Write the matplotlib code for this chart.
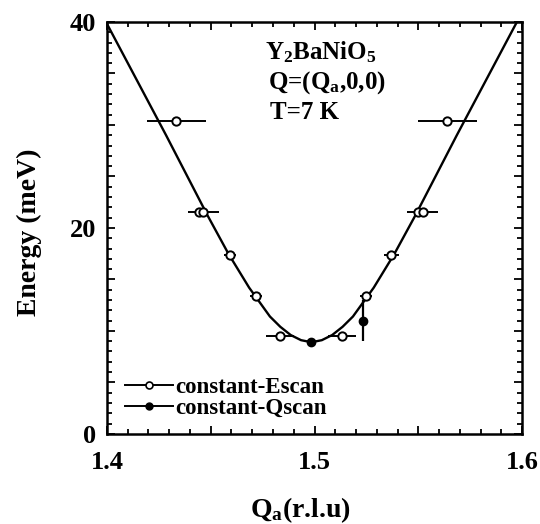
import matplotlib
matplotlib.use("Agg")
import matplotlib.pyplot as plt
from matplotlib.ticker import MultipleLocator, FuncFormatter

plt.rcParams['font.family'] = ['Liberation Serif', 'DejaVu Serif']
plt.rcParams['font.weight'] = 'bold'
plt.rcParams['axes.labelweight'] = 'bold'
plt.rcParams['mathtext.fontset'] = 'custom'
plt.rcParams['mathtext.rm'] = 'Liberation Serif:bold'
plt.rcParams['mathtext.default'] = 'regular'

# constant-E scans (open circles): Qa, E, horizontal error
qE = [1.4333, 1.4445, 1.4465, 1.4593, 1.4718, 1.4834, 1.5131, 1.5248, 1.5369, 1.5500, 1.5521, 1.5640]
EE = [30.4, 21.5, 21.5, 17.4, 13.4, 9.5, 9.5, 13.4, 17.4, 21.5, 21.5, 30.4]
qE_err = [0.0142, 0.0, 0.0075, 0.003, 0.0027, 0.0067, 0.0068, 0.0027, 0.0036, 0.0, 0.0075, 0.0141]

# constant-Q scans (filled circles): Qa, E, vertical error
qQ = [1.4982, 1.5235]
EQ = [8.9, 11.0]
EQ_err = [0.4, 2.0]

# dispersion curve
curve_q = [1.3935, 1.3985, 1.4085, 1.4185, 1.4285, 1.4385, 1.4485, 1.4585, 1.4685, 1.4735,
           1.4785, 1.4835, 1.4885, 1.4935, 1.4985, 1.5035, 1.5085, 1.5135, 1.5185,
           1.5235, 1.5285, 1.5385, 1.5485, 1.5585, 1.5685, 1.5785, 1.5885, 1.5985, 1.6035]
curve_E = [42.3, 40.4, 36.6, 32.8, 29.0, 25.1, 21.2, 17.5, 14.2, 12.8,
           11.4, 10.4, 9.6, 9.1, 8.9, 9.1, 9.6, 10.4, 11.4,
           12.8, 14.2, 17.5, 21.2, 25.1, 29.0, 32.8, 36.6, 40.4, 42.3]

fig = plt.figure(figsize=(5.4, 5.24), dpi=100)
ax = fig.add_axes([0.198, 0.172, 0.769, 0.786])

ax.plot(curve_q, curve_E, color='black', lw=1.7, zorder=2)

ax.errorbar(qE, EE, xerr=qE_err, fmt='o', ms=6, mfc='white', mec='black', mew=1.4,
            ecolor='black', elinewidth=1.4, capsize=0, zorder=3)
ax.errorbar(qQ, EQ, yerr=EQ_err, fmt='o', ms=6, mfc='black', mec='black',
            ecolor='black', elinewidth=1.6, capsize=0, zorder=4)

# legend handles
hE, = ax.plot([], [], '-o', color='black', lw=1.4, ms=5, mfc='white', mew=1.2)
hQ, = ax.plot([], [], '-o', color='black', lw=1.4, ms=5, mfc='black')
ax.legend([hE, hQ], ['constant-Escan', 'constant-Qscan'], loc='center left',
          bbox_to_anchor=(0.044, 0.088), frameon=False,
          prop={'weight': 'bold', 'size': 16.5}, handlelength=2.1,
          handletextpad=0.1, labelspacing=0.0, borderaxespad=0.0, borderpad=0.0)

ax.text(1.4761, 37.1, 'Y$_2$BaNiO$_5$', fontsize=18, va='center')
ax.text(1.4775, 34.1, 'Q=(Q$_a$,0,0)', fontsize=18, va='center')
ax.text(1.4785, 31.2, 'T=7 K', fontsize=18, va='center')

ax.set_xlim(1.4, 1.6)
ax.set_ylim(0, 40)
ax.xaxis.set_major_locator(MultipleLocator(0.05))
ax.xaxis.set_minor_locator(MultipleLocator(0.01))
ax.yaxis.set_major_locator(MultipleLocator(5))
ax.yaxis.set_minor_locator(MultipleLocator(1))
ax.xaxis.set_major_formatter(FuncFormatter(
    lambda v, p: ('%.1f' % v) if abs(v * 10 - round(v * 10)) < 1e-6 else ''))
ax.yaxis.set_major_formatter(FuncFormatter(
    lambda v, p: ('%d' % v) if abs(v % 20) < 1e-6 else ''))

ax.tick_params(which='both', direction='in', top=True, right=True, width=1.3,
               labelsize=19)
ax.tick_params(axis='x', pad=12)
ax.tick_params(axis='y', pad=8)
ax.tick_params(which='major', length=6)
ax.tick_params(which='minor', length=3.5)
for s in ax.spines.values():
    s.set_linewidth(1.8)

ax.set_xlabel('Q$_a$(r.l.u)', fontsize=20, fontweight='bold')
ax.set_ylabel('Energy (meV)', fontsize=20, fontweight='bold')
ax.xaxis.set_label_coords(0.467, -0.148)
ax.yaxis.set_label_coords(-0.157, 0.49)

fig.savefig('out.png', dpi=100)
